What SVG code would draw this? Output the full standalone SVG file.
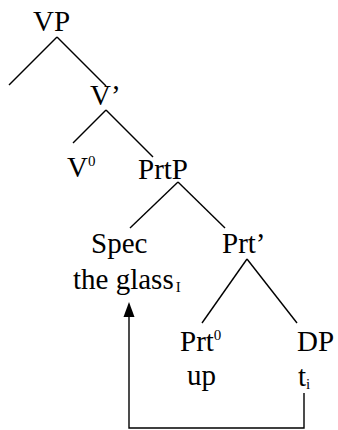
<svg xmlns="http://www.w3.org/2000/svg" width="338" height="430" viewBox="0 0 338 430">
<style>
text{font-family:'Liberation Serif','Times New Roman',serif;font-size:29px;fill:#000}
.sm{font-size:15px}
#connectors line,#connectors path{stroke:#000;stroke-width:1.4;fill:none}
#connectors .head{fill:#000;stroke:none}
</style>
<rect width="338" height="430" fill="#fff"/>
<g id="connectors">
<line x1="57" y1="37" x2="9" y2="85"/>
<line x1="57" y1="37" x2="106" y2="86"/>
<line x1="106" y1="110" x2="73" y2="143"/>
<line x1="106" y1="110" x2="153" y2="157"/>
<line x1="178" y1="182" x2="130" y2="228"/>
<line x1="178" y1="182" x2="225" y2="228"/>
<line x1="247" y1="259" x2="202" y2="323"/>
<line x1="247" y1="259" x2="297" y2="323"/>
<path d="M304,393 V428 H129 V315"/>
<path class="head" d="M129,302 L134.5,317 L123.5,317 Z"/>
</g>
<g id="VP"><text x="33" y="31">VP</text></g>
<g id="Vbar"><text x="90" y="105">V’</text></g>
<g id="V0"><text x="67" y="177">V<tspan class="sm" dy="-11">0</tspan></text></g>
<g id="PrtP"><text x="138" y="179">PrtP</text></g>
<g id="Spec"><text x="91" y="253">Spec</text><text x="73" y="289">the glass<tspan class="sm" dx="2" dy="3">I</tspan></text></g>
<g id="Prtbar"><text x="222" y="253">Prt’</text></g>
<g id="Prt0"><text x="180" y="351">Prt<tspan class="sm" dy="-11">0</tspan></text><text x="187" y="385">up</text></g>
<g id="DP"><text x="297" y="351">DP</text><text x="298" y="386">t<tspan class="sm" dy="3">i</tspan></text></g>
</svg>
